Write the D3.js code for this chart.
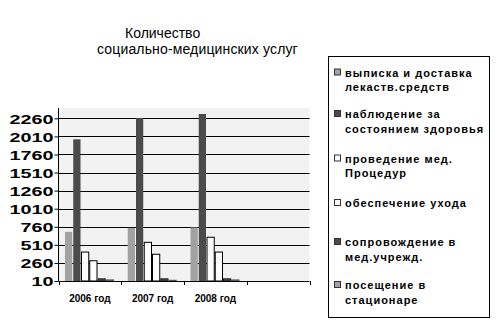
<!DOCTYPE html>
<html><head><meta charset="utf-8">
<script src="https://cdn.jsdelivr.net/npm/d3@7"></script>
<style>body{margin:0;background:#fff}svg{display:block;font-family:"Liberation Sans",Arial,sans-serif}</style>
</head><body><svg id="c" width="500" height="323"></svg>
<script>
const categories = ["2006 год","2007 год","2008 год",""];
const seriesNames = ["выписка и доставка лекаств.средств","наблюдение за состоянием здоровья","проведение мед. Процедур","обеспечение ухода","сопровождение в мед.учрежд.","посещение в стационаре"];
const legendLines = [["выписка и доставка","лекаств.средств"],["наблюдение за","состоянием здоровья"],["проведение мед.","Процедур"],["обеспечение ухода"],["сопровождение в","мед.учрежд."],["посещение в","стационаре"]];
const vypiska = [690, 745, 750];
const nablyudenie = [1970, 2265, 2320];
const provedenie = [410, 545, 615];
const ukhod = [290, 380, 410];
const soprovozhdenie = [40, 40, 40];
const poseshchenie = [25, 20, 25];
const yTicks = [10,260,510,760,1010,1260,1510,1760,2010,2260];
const seriesValues = [vypiska, nablyudenie, provedenie, ukhod, soprovozhdenie, poseshchenie];
const fills = ["#a2a2a2","#4b4b4b","#fcfcfc","#fcfcfc","#4b4b4b","#a2a2a2"];
const strokes = ["none","none","#000","#000","#222","#555"];

const svg = d3.select("#c");
const L = 58.5, R = 309.5, T = 108, B = 281;
const y = d3.scaleLinear().domain([10, 2403]).range([B, T]);
const x = d3.scaleBand().domain(categories).range([L, R]);
const xs = d3.scaleBand().domain(d3.range(seriesNames.length)).range([6, 55.5]);

// title
svg.append("text").attr("x",125).attr("y",38).attr("font-size",14).text("Количество");
svg.append("text").attr("x",97).attr("y",53.5).attr("font-size",14).attr("letter-spacing",0.15).text("социально-медицинских услуг");

// plot bg
svg.append("rect").attr("x",L).attr("y",T).attr("width",R-L).attr("height",B-T).attr("fill","#f2f2f2");

// gridlines
svg.append("g").selectAll("line").data(yTicks.slice(1)).join("line")
  .attr("x1",L).attr("x2",R).attr("y1",d=>Math.round(y(d))+0.5).attr("y2",d=>Math.round(y(d))+0.5)
  .attr("stroke","#000").attr("stroke-width",1);

// bars
const data = [];
seriesValues.forEach((vals,si)=>vals.forEach((v,ci)=>data.push({si,ci,v})));
svg.append("g").selectAll("rect").data(data).join("rect")
  .attr("x",d=>x(categories[d.ci])+xs(d.si)+0.5)
  .attr("width",xs.bandwidth()-1)
  .attr("y",d=>y(d.v))
  .attr("height",d=>B-y(d.v))
  .attr("fill",d=>fills[d.si])
  .attr("stroke",d=>strokes[d.si]).attr("stroke-width",1);

// y axis
const ya = d3.axisLeft(y).tickValues(yTicks).tickSize(4).tickFormat(d3.format("d"));
const gy = svg.append("g").attr("transform",`translate(${L},0)`).call(ya);
gy.select(".domain").attr("d",`M0,${T}V${B}`).attr("stroke","#000");
gy.selectAll(".tick line").attr("stroke","#000");
gy.selectAll(".tick text").attr("font-size",13).attr("font-weight","bold").attr("fill","#000")
  .attr("font-family","Liberation Sans, Arial, sans-serif")
  .attr("x",-5).attr("dy","0.36em")
  .attr("textLength",d=>String(d).length*11).attr("lengthAdjust","spacingAndGlyphs");

// x axis
const gx = svg.append("g").attr("transform",`translate(0,${B})`);
gx.append("line").attr("x1",L).attr("x2",R).attr("y1",0.5).attr("y2",0.5).attr("stroke","#000");
const edges = categories.map(c=>x(c)).concat([R]);
gx.selectAll("line.t").data(edges).join("line").attr("class","t")
  .attr("x1",d=>Math.round(d)+0.5).attr("x2",d=>Math.round(d)+0.5).attr("y1",0).attr("y2",4).attr("stroke","#000");
gx.selectAll("text").data(categories).join("text")
  .attr("x",d=>x(d)+x.bandwidth()/2).attr("y",21).attr("text-anchor","middle")
  .attr("font-size",10).attr("font-weight","bold").text(d=>d);

// legend
const lg = svg.append("g");
lg.append("rect").attr("x",328.5).attr("y",56.5).attr("width",161).attr("height",261).attr("fill","#fff").attr("stroke","#000");
const itemY = [72.5, 114, 158.5, 203, 242, 285];
legendLines.forEach((lines,i)=>{
  lg.append("rect").attr("x",334.5).attr("y",itemY[i]-3.5).attr("width",6).attr("height",6)
    .attr("fill",fills[i]).attr("stroke","#333");
  lines.forEach((ln,j)=>{
    lg.append("text").attr("x",345).attr("y",itemY[i]+j*14.5+4).attr("font-size",11).attr("font-weight","bold")
      .attr("letter-spacing",1).text(ln);
  });
});
</script></body></html>
